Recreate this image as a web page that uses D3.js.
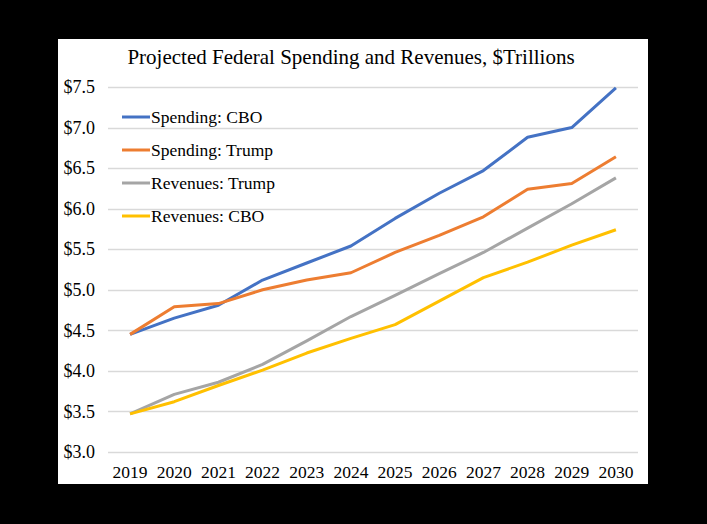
<!DOCTYPE html>
<html>
<head>
<meta charset="utf-8">
<script src="https://cdn.jsdelivr.net/npm/d3@7"></script>
<style>
  html, body { margin: 0; padding: 0; background: #000; }
  svg { display: block; }
  text { font-family: "Liberation Serif", "Times New Roman", serif; fill: #000; }
</style>
</head>
<body>
<div id="chart"></div>
<script>
// values in $ trillions
const years = ["2019", "2020", "2021", "2022", "2023", "2024", "2025", "2026", "2027", "2028", "2029", "2030"];
const spendingCBO = [4.45, 4.65, 4.81, 5.12, 5.33, 5.54, 5.88, 6.19, 6.47, 6.88, 7.00, 7.49];
const spendingTrump = [4.45, 4.79, 4.83, 5.00, 5.12, 5.21, 5.46, 5.67, 5.90, 6.24, 6.31, 6.64];
const revenuesTrump = [3.47, 3.71, 3.86, 4.08, 4.37, 4.67, 4.93, 5.20, 5.46, 5.76, 6.06, 6.38];
const revenuesCBO = [3.47, 3.62, 3.82, 4.01, 4.22, 4.40, 4.57, 4.86, 5.15, 5.34, 5.55, 5.74];
const yTicks = [3.0, 3.5, 4.0, 4.5, 5.0, 5.5, 6.0, 6.5, 7.0, 7.5];

const series = [
  { name: "Spending: CBO", values: spendingCBO, color: "#4472C4" },
  { name: "Spending: Trump", values: spendingTrump, color: "#ED7D31" },
  { name: "Revenues: Trump", values: revenuesTrump, color: "#A5A5A5" },
  { name: "Revenues: CBO", values: revenuesCBO, color: "#FFC000" }
];

(function () {
  let width = 707,
    height = 524,
    margin = { left: 108, right: 69, top: 87, bottom: 72 };

  let svg = d3.select("#chart")
    .append("svg")
    .attr("width", width)
    .attr("height", height);

  svg.append("rect")
    .attr("width", width).attr("height", height)
    .attr("fill", "#000");

  // white chart area
  svg.append("rect")
    .attr("x", 58).attr("y", 39)
    .attr("width", 590).attr("height", 445)
    .attr("fill", "#fff");

  let x = d3.scaleBand()
    .domain(years)
    .range([margin.left, width - margin.right]);

  let y = d3.scaleLinear()
    .domain([3, 7.5])
    .range([height - margin.bottom, margin.top]);

  // gridlines
  svg.append("g")
    .selectAll("line")
    .data(yTicks)
    .enter()
    .append("line")
    .attr("x1", margin.left)
    .attr("x2", width - margin.right)
    .attr("y1", d => Math.round(y(d)) + 0.5)
    .attr("y2", d => Math.round(y(d)) + 0.5)
    .attr("stroke", "#D9D9D9")
    .attr("stroke-width", 1.3);

  // y axis
  let yAxis = svg.append("g")
    .attr("transform", `translate(${margin.left - 13},0)`)
    .call(d3.axisLeft(y).tickValues(yTicks).tickSize(0).tickFormat(d => "$" + d3.format(".1f")(d)));
  yAxis.select(".domain").remove();
  yAxis.selectAll("text")
    .attr("x", 0)
    .style("font-family", '"Liberation Serif", serif')
    .style("font-size", "18px")
    .attr("fill", "#000");

  // x axis
  let xAxis = svg.append("g")
    .attr("transform", `translate(0,${height - margin.bottom})`)
    .call(d3.axisBottom(x).tickSize(0));
  xAxis.select(".domain").remove();
  xAxis.selectAll("text")
    .attr("y", 14)
    .style("font-family", '"Liberation Serif", serif')
    .style("font-size", "17.5px")
    .attr("fill", "#000");

  let line = d3.line()
    .x((d, i) => x(years[i]) + x.bandwidth() / 2)
    .y(d => y(d));

  svg.append("g")
    .selectAll("path")
    .data(series)
    .enter()
    .append("path")
    .attr("d", d => line(d.values))
    .attr("fill", "none")
    .attr("stroke", d => d.color)
    .attr("stroke-width", 3)
    .attr("stroke-linejoin", "round");

  // title
  svg.append("text")
    .attr("x", 351)
    .attr("y", 64)
    .attr("text-anchor", "middle")
    .style("font-size", "21px")
    .text("Projected Federal Spending and Revenues, $Trillions");

  // legend
  let legend = svg.append("g")
    .selectAll("g")
    .data(series)
    .enter()
    .append("g")
    .attr("transform", (d, i) => `translate(122,${117 + i * 33})`);

  legend.append("line")
    .attr("x1", 0).attr("x2", 28)
    .attr("stroke", d => d.color)
    .attr("stroke-width", 3);

  legend.append("text")
    .attr("x", 29)
    .attr("dy", "0.32em")
    .style("font-size", "17.5px")
    .text(d => d.name);
})();
</script>
</body>
</html>
